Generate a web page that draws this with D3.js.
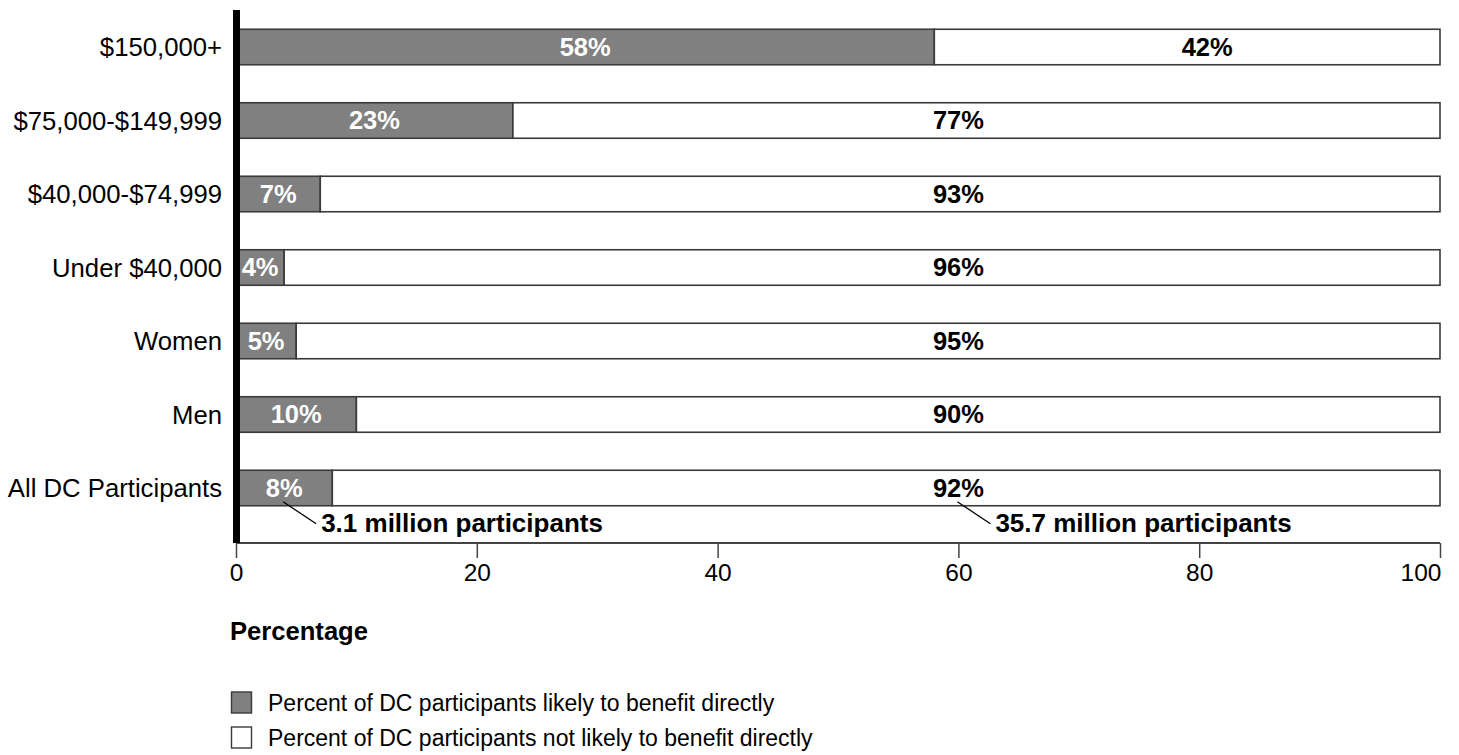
<!DOCTYPE html>
<html>
<head>
<meta charset="utf-8">
<script src="https://cdn.jsdelivr.net/npm/d3@7"></script>
<style>
  html, body { margin: 0; padding: 0; background: #fff; }
  svg { display: block; font-family: "Liberation Sans", Arial, Helvetica, sans-serif; }
</style>
</head>
<body>
<svg id="chart" width="1459" height="755"></svg>
<script>
// ---- data ----
const categories = ["$150,000+", "$75,000-$149,999", "$40,000-$74,999", "Under $40,000", "Women", "Men", "All DC Participants"];
const likely = [58, 23, 7, 4, 5, 10, 8];
const notLikely = [42, 77, 93, 96, 95, 90, 92];
const xTicks = [0, 20, 40, 60, 80, 100];
const seriesNames = ["Percent of DC participants likely to benefit directly", "Percent of DC participants not likely to benefit directly"];
const annotationTexts = ["3.1 million participants", "35.7 million participants"];
const xTitle = "Percentage";

// ---- layout ----
const svg = d3.select("#chart");
const GRAY = "#808080", STROKE = "#3a3a3a";
const plotTop = 10, plotBottom = 543;
const x = d3.scaleLinear().domain([0, 100]).range([236, 1440]);
const y = d3.scaleBand().domain(categories).range([10.25, 524.75]).paddingInner(0.517).paddingOuter(0.2585);

const rows = categories.map((c, i) => ({ cat: c, likely: likely[i], notLikely: notLikely[i] }));

// bars
const g = svg.append("g");
g.selectAll("rect.likely").data(rows).join("rect")
  .attr("class", "likely")
  .attr("x", d => x(0)).attr("y", d => y(d.cat))
  .attr("width", d => x(d.likely) - x(0)).attr("height", y.bandwidth())
  .attr("fill", GRAY).attr("stroke", STROKE).attr("stroke-width", 1.6);
g.selectAll("rect.not").data(rows).join("rect")
  .attr("class", "not")
  .attr("x", d => x(d.likely)).attr("y", d => y(d.cat))
  .attr("width", d => x(d.likely + d.notLikely) - x(d.likely)).attr("height", y.bandwidth())
  .attr("fill", "#fff").attr("stroke", STROKE).attr("stroke-width", 1.6);

// value labels
const labelY = d => y(d.cat) + y.bandwidth() / 2;
g.selectAll("text.lk").data(rows).join("text")
  .attr("x", d => x(d.likely / 2)).attr("y", labelY).attr("dy", "0.35em")
  .attr("text-anchor", "middle").attr("font-weight", "bold").attr("font-size", 25.5)
  .attr("fill", "#fff").text(d => d.likely + "%");
const whiteLabelX = d => d.likely > 50 ? x((d.likely + 100) / 2) + 20 : x(60);
g.selectAll("text.nl").data(rows).join("text")
  .attr("x", whiteLabelX).attr("y", labelY).attr("dy", "0.35em")
  .attr("text-anchor", "middle").attr("font-weight", "bold").attr("font-size", 25.5)
  .attr("fill", "#000").text(d => d.notLikely + "%");

// category labels
g.selectAll("text.cat").data(rows).join("text")
  .attr("x", 222).attr("y", labelY).attr("dy", "0.36em")
  .attr("text-anchor", "end").attr("font-size", 25.7).attr("fill", "#000")
  .text(d => d.cat);

// x axis
const xAxis = d3.axisBottom(x).tickValues(xTicks).tickSize(15).tickPadding(6).tickFormat(d3.format("d"));
const ax = svg.append("g").attr("transform", `translate(0,${plotBottom})`).call(xAxis);
ax.select(".domain").attr("stroke", "#444").attr("stroke-width", 2).attr("d", `M${x(0)},0H${x(100)}`);
ax.selectAll(".tick line").attr("stroke", "#444").attr("stroke-width", 1.5);
ax.selectAll(".tick text").attr("font-size", 24.5).attr("fill", "#000")
  .attr("font-family", "'Liberation Sans', Arial, sans-serif")
  .attr("text-anchor", d => d === 100 ? "end" : "middle")
  .attr("dx", d => d === 100 ? 1 : 0);

// thick left axis line
svg.append("line").attr("x1", x(0) + 0.5).attr("x2", x(0) + 0.5)
  .attr("y1", plotTop).attr("y2", plotBottom)
  .attr("stroke", "#000").attr("stroke-width", 7);

// x title
svg.append("text").attr("x", 230).attr("y", 640).attr("font-weight", "bold").attr("font-size", 25.6)
  .attr("fill", "#000").text(xTitle);

// annotations
const last = rows[rows.length - 1];
const barBottom = y(last.cat) + y.bandwidth();
const annStarts = [x(last.likely / 2), whiteLabelX(last)];
annStarts.forEach((sx, i) => {
  svg.append("line").attr("x1", sx - 1).attr("y1", barBottom - 4)
    .attr("x2", sx + 32).attr("y2", barBottom + 18)
    .attr("stroke", "#000").attr("stroke-width", 1.3);
  svg.append("text").attr("x", sx + 37).attr("y", barBottom + 26)
    .attr("font-weight", "bold").attr("font-size", 26).attr("fill", "#000")
    .text(annotationTexts[i]);
});

// legend
const legend = svg.append("g");
const legendFills = [GRAY, "#fff"];
seriesNames.forEach((name, i) => {
  const ly = 692 + i * 35;
  legend.append("rect").attr("x", 231.5).attr("y", ly).attr("width", 20).attr("height", 21)
    .attr("fill", legendFills[i]).attr("stroke", STROKE).attr("stroke-width", 1.4);
  legend.append("text").attr("x", 268).attr("y", ly + 19).attr("font-size", 23).attr("fill", "#000")
    .text(name);
});
</script>
</body>
</html>
